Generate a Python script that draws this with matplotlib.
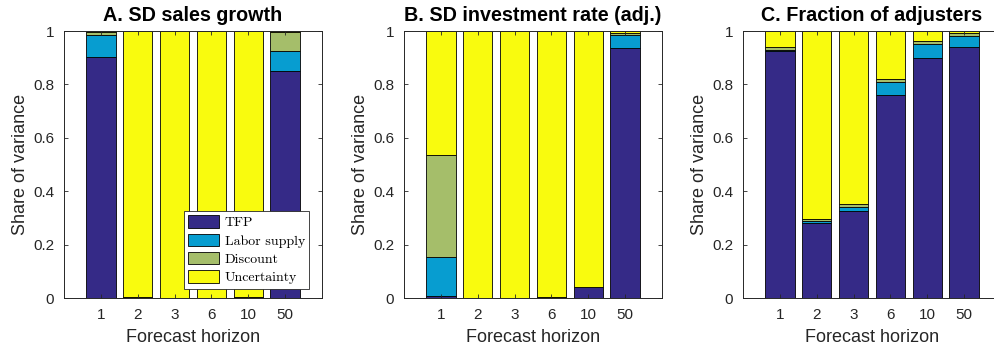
import matplotlib
matplotlib.use("Agg")
import matplotlib.pyplot as plt
import numpy as np

horizons = ["1", "2", "3", "6", "10", "50"]
components = ["TFP", "Labor supply", "Discount", "Uncertainty"]
colors = ["#352a87", "#079dd0", "#a5be6a", "#f9fb0e"]

titles = ["A. SD sales growth", "B. SD investment rate (adj.)", "C. Fraction of adjusters"]

# Panel A: SD sales growth
a_tfp = [0.904, 0.002, 0.000, 0.001, 0.005, 0.850]
a_lab = [0.080, 0.000, 0.000, 0.000, 0.000, 0.075]
a_dis = [0.014, 0.000, 0.000, 0.000, 0.000, 0.072]
a_unc = [0.002, 0.998, 1.000, 0.999, 0.995, 0.003]

# Panel B: SD investment rate (adj.)
b_tfp = [0.007, 0.001, 0.001, 0.004, 0.040, 0.938]
b_lab = [0.147, 0.000, 0.000, 0.000, 0.000, 0.046]
b_dis = [0.380, 0.000, 0.000, 0.000, 0.000, 0.008]
b_unc = [0.466, 0.999, 0.999, 0.996, 0.960, 0.008]

# Panel C: Fraction of adjusters
c_tfp = [0.926, 0.280, 0.326, 0.759, 0.898, 0.941]
c_lab = [0.004, 0.010, 0.014, 0.049, 0.052, 0.042]
c_dis = [0.011, 0.006, 0.013, 0.011, 0.011, 0.011]
c_unc = [0.059, 0.704, 0.647, 0.181, 0.039, 0.006]

panels = [
    [a_tfp, a_lab, a_dis, a_unc],
    [b_tfp, b_lab, b_dis, b_unc],
    [c_tfp, c_lab, c_dis, c_unc],
]

sans = ["Liberation Sans", "DejaVu Sans"]
txtcol = "#262626"
fig = plt.figure(figsize=(9.94, 3.51), dpi=100)
W, H = 994, 351
lefts = [64, 404, 743]
axw = 258
bottom_px, top_px = 298, 31

for i, (series, title) in enumerate(zip(panels, titles)):
    ax = fig.add_axes([lefts[i] / W, 1 - bottom_px / H, axw / W, (bottom_px - top_px) / H])
    x = np.arange(1, len(horizons) + 1)
    base = np.zeros(len(horizons))
    handles = []
    for vals, col, lab in zip(series, colors, components):
        v = np.array(vals)
        h = ax.bar(x, v, width=0.8, bottom=base, color=col, edgecolor="black",
                   linewidth=0.6, label=lab)
        handles.append(h)
        base = base + v
    ax.set_xlim(0, 7)
    ax.set_ylim(0, 1)
    ax.set_xticks(x)
    ax.set_xticklabels(horizons, fontsize=11, family=sans, color=txtcol)
    ax.set_yticks([0, 0.2, 0.4, 0.6, 0.8, 1.0])
    ax.set_yticklabels(["0", "0.2", "0.4", "0.6", "0.8", "1"], fontsize=11, family=sans, color=txtcol)
    ax.tick_params(direction="in", length=3, width=0.6, top=True, right=True, pad=7,
                   colors=txtcol)
    for s in ax.spines.values():
        s.set_linewidth(0.7)
        s.set_color(txtcol)
    ax.set_xlabel("Forecast horizon", fontsize=13, family=sans, labelpad=5, color=txtcol)
    ax.set_ylabel("Share of variance", fontsize=13, family=sans, labelpad=3, color=txtcol)
    ax.set_title(title, fontsize=14.2, fontweight="bold", family=sans, pad=7)
    if i == 0:
        leg = ax.legend(handles=handles, loc="lower right", bbox_to_anchor=(0.962, 0.025),
                        prop={"family": ["cmr10", "DejaVu Serif"], "size": 10},
                        frameon=True, fancybox=False, edgecolor=txtcol,
                        framealpha=1, borderpad=0.3, labelspacing=0.32,
                        handlelength=2.25, handleheight=1.0, handletextpad=0.4,
                        borderaxespad=0.2)
        leg.get_frame().set_linewidth(0.6)

fig.savefig("out.png", dpi=100)
